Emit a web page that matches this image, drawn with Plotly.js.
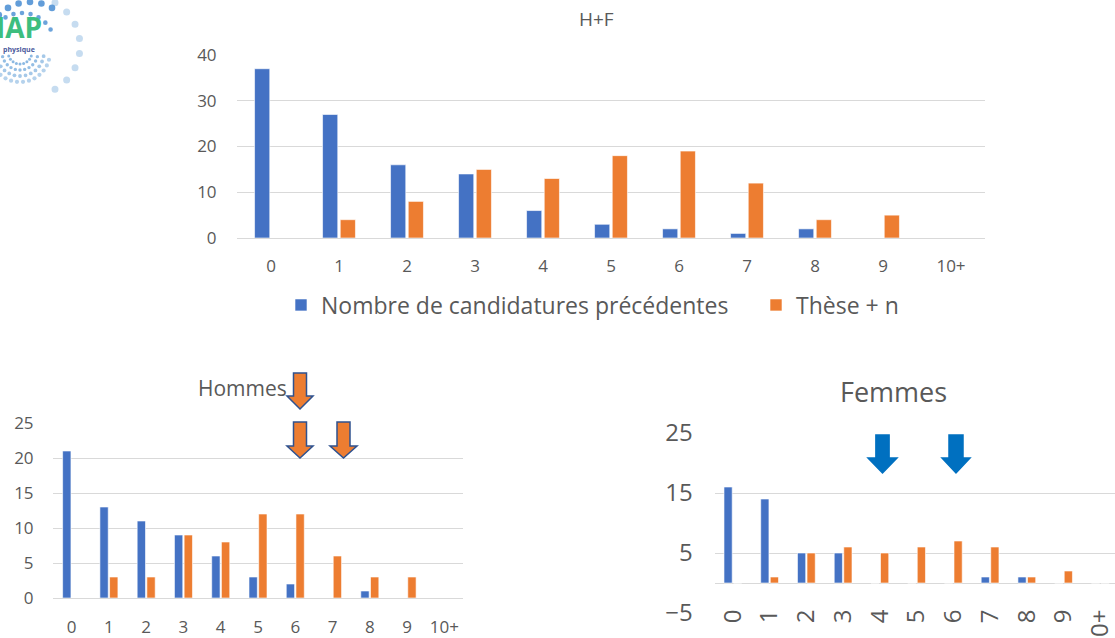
<!DOCTYPE html>
<html><head><meta charset="utf-8">
<script src="https://cdn.plot.ly/plotly-3.0.1.min.js"></script>
<style>html,body{margin:0;padding:0;background:#fff;}#chart{width:1115px;height:638px;}</style>
</head><body><div id="chart"></div>
<script>
// ---- data ----
const categories = ["0","1","2","3","4","5","6","7","8","9","10+"];
const seriesNames = ["Nombre de candidatures précédentes", "Thèse + n"];
const hfPrev   = [37,27,16,14,6,3,2,1,2,0,0];
const hfThese  = [0,4,8,15,13,18,19,12,4,5,0];
const hPrev    = [21,13,11,9,6,3,2,0,1,0,0];
const hThese   = [0,3,3,9,8,12,12,6,3,3,0];
const fPrev    = [16,14,5,5,0,0,0,1,1,0,0];
const fThese   = [0,1,5,6,5,6,7,6,1,2,0];
const titles   = ["H+F", "Hommes", "Femmes"];

const W = 1115, H = 638;
const px = x => x / W, py = y => 1 - y / H;
const BLUE = "#4472C4", ORANGE = "#ED7D31", GRAY = "#595959", GRID = "#D9D9D9";
const FONT = "Open Sans, Liberation Sans, sans-serif";

function bar(y, name, color, xa, ya, show, leg) {
  return {type: "bar", x: categories, y: y, name: name, xaxis: xa, yaxis: ya,
    marker: {color: color, line: {color: "rgba(255,255,255,0.6)", width: 1}},
    showlegend: show, legend: leg || "legend", hoverinfo: "x+y"};
}
const data = [
  bar(hfPrev, seriesNames[0], BLUE, "x", "y", true, "legend"),
  bar(hfThese, seriesNames[1], ORANGE, "x", "y", true, "legend2"),
  bar(hPrev, seriesNames[0], BLUE, "x2", "y2", false),
  bar(hThese, seriesNames[1], ORANGE, "x2", "y2", false),
  bar(fPrev, seriesNames[0], BLUE, "x3", "y3", false),
  bar(fThese, seriesNames[1], ORANGE, "x3", "y3", false)
];

function xax(domain, size, len, extra) {
  return Object.assign({domain: domain, type: "category", showgrid: false, zeroline: false,
    showline: false, ticks: "outside", ticklen: len, tickcolor: "rgba(0,0,0,0)",
    tickfont: {family: FONT, size: size, color: GRAY}, fixedrange: true}, extra || {});
}
function yax(domain, range, dtick, size, len, extra) {
  return Object.assign({domain: domain, range: range, dtick: dtick, showgrid: true,
    gridcolor: GRID, gridwidth: 1, zeroline: true, zerolinecolor: GRID, zerolinewidth: 1,
    showline: false, ticks: "outside", ticklen: len, tickcolor: "rgba(0,0,0,0)",
    tickfont: {family: FONT, size: size, color: GRAY}, fixedrange: true}, extra || {});
}

// decorative arrows (pixel geometry -> paper coords)
function downArrow(xL, xR, c, sw, yT, yH, yB) {
  const p = (x, y) => px(x).toFixed(5) + "," + py(y).toFixed(5);
  return "M" + p(c - sw, yT) + " L" + p(c + sw, yT) + " L" + p(c + sw, yH) + " L" + p(xR, yH) +
    " L" + p(c, yB) + " L" + p(xL, yH) + " L" + p(c - sw, yH) + " Z";
}
const shapes = [];
function addArrow(path, fill, line) {
  shapes.push({type: "path", xref: "paper", yref: "paper", path: path,
    fillcolor: fill, line: {color: line, width: 1.5}, layer: "above"});
}
addArrow(downArrow(287, 313, 300, 6.5, 373, 396, 409), ORANGE, "#2F528F");
addArrow(downArrow(287, 313, 300, 6.5, 422, 446, 458), ORANGE, "#2F528F");
addArrow(downArrow(330, 357, 343.5, 6.5, 422, 446, 458), ORANGE, "#2F528F");
addArrow(downArrow(868, 897, 882.5, 6.6, 435, 458, 473), "#0070C0", "#0070C0");
addArrow(downArrow(942, 970, 956, 7, 435, 458, 473), "#0070C0", "#0070C0");

// decorative logo dots (partial logo in the top-left corner)
const logoRings = [
  {cx: 30, cy: 46, r: 44, a0: 195, a1: 300, n: 8, s: 3.3, c: "rgba(70,140,210,0.85)"},
  {cx: 30, cy: 46, r: 50, a0: 300, a1: 420, n: 8, s: 3.5, c: "rgba(91,155,213,0.35)"},
  {cx: 22, cy: 46, r: 33, a0: 195, a1: 330, n: 10, s: 2.3, c: "rgba(70,140,210,0.8)"},
  {cx: 20, cy: 52, r: 12, a0: 20, a1: 160, n: 9, s: 1.5, c: "rgba(91,155,213,0.7)"},
  {cx: 20, cy: 52, r: 18, a0: 15, a1: 165, n: 11, s: 1.7, c: "rgba(91,155,213,0.65)"},
  {cx: 20, cy: 52, r: 24, a0: 10, a1: 170, n: 13, s: 1.9, c: "rgba(91,155,213,0.55)"},
  {cx: 20, cy: 52, r: 30, a0: 15, a1: 165, n: 14, s: 2.1, c: "rgba(91,155,213,0.45)"}
];
logoRings.forEach(g => {
  for (let i = 0; i < g.n; i++) {
    const a = (g.a0 + (g.a1 - g.a0) * i / (g.n - 1)) * Math.PI / 180;
    const cx = g.cx + g.r * Math.cos(a), cy = g.cy + g.r * Math.sin(a);
    shapes.push({type: "circle", xref: "paper", yref: "paper",
      x0: px(cx - g.s), x1: px(cx + g.s), y0: py(cy + g.s), y1: py(cy - g.s),
      fillcolor: g.c, line: {width: 0}, layer: "below"});
  }
});

function note(text, x, y, size, color, xanchor, extra) {
  return Object.assign({text: text, x: px(x), y: py(y), xref: "paper", yref: "paper",
    xanchor: xanchor || "center", yanchor: "middle", showarrow: false,
    font: {family: FONT, size: size, color: color || GRAY}}, extra || {});
}
const annotations = [
  note(titles[0], 597, 19, 19),
  note(titles[1], 242, 388, 21),
  note(titles[2], 893, 391, 27),
  note("<b>IAP</b>", -6, 27, 28, "#3DBE7E", "left"),
  note("<b>physique</b>", 1, 50, 7, "#4B5A9C", "left")
];

const legendBase = {orientation: "h", xanchor: "left", yanchor: "middle",
  font: {family: FONT, size: 23, color: GRAY}, bgcolor: "rgba(0,0,0,0)"};

const layout = {
  width: W, height: H, margin: {l: 0, r: 0, t: 0, b: 0},
  paper_bgcolor: "#fff", plot_bgcolor: "rgba(0,0,0,0)",
  barmode: "group", bargap: 0.48, bargroupgap: 0.14,
  font: {family: FONT, color: GRAY},
  showlegend: true,
  legend: Object.assign({x: px(281), y: py(305)}, legendBase),
  legend2: Object.assign({x: px(756), y: py(305)}, legendBase),
  xaxis: xax([px(237), px(985)], 17, 13),
  yaxis: yax([py(238), py(55)], [0, 40], 10, 17, 16),
  xaxis2: xax([px(53), px(463)], 17, 14, {anchor: "y2"}),
  yaxis2: yax([py(598), py(423)], [0, 25], 5, 17, 15, {anchor: "x2"}),
  xaxis3: xax([px(714.5), 1], 24, 16, {anchor: "free", position: py(583), tickangle: -90,
    range: [-0.5, 10.4]}),
  yaxis3: yax([py(613), py(433)], [-5, 25], 10, 24, 16, {anchor: "x3", tick0: -5}),
  shapes: shapes,
  annotations: annotations
};

Plotly.newPlot("chart", data, layout, {staticPlot: true, displayModeBar: false});
</script>
</body></html>
